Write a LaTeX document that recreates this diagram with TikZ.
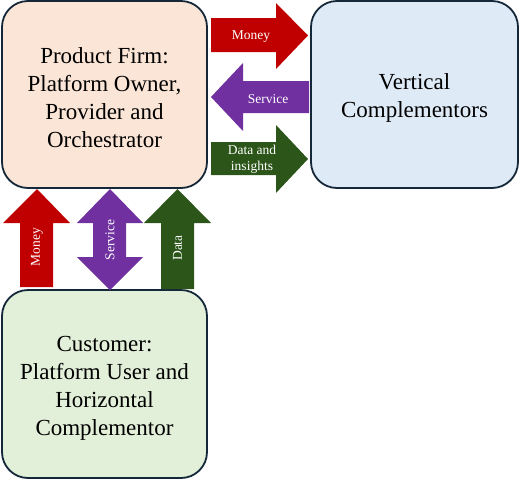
\documentclass[tikz,border=0pt]{standalone}
\usepackage{fontspec}
\setmainfont{Liberation Serif}
\begin{document}
\begin{tikzpicture}[x=1pt,y=-1pt,
  boxstyle/.style={draw=boxline,line width=1.8pt,rounded corners=26pt},
  boxtext/.style={align=center,font=\fontsize{23}{28}\selectfont,text=black},
  arrowlabel/.style={text=white,font=\fontsize{13.5}{16}\selectfont,align=center,inner sep=0pt}]
\definecolor{boxline}{HTML}{15283A}
\definecolor{firmfill}{HTML}{FBE5D6}
\definecolor{vertfill}{HTML}{DEEBF7}
\definecolor{custfill}{HTML}{E2F0D9}
\definecolor{arrred}{HTML}{C00000}
\definecolor{arrpurple}{HTML}{7030A0}
\definecolor{arrgreen}{HTML}{2C5519}
\useasboundingbox (0,0) rectangle (520,480);
% boxes
\draw[boxstyle,fill=firmfill] (2,1) rectangle (207,188);
\draw[boxstyle,fill=vertfill] (311,1) rectangle (518,188);
\draw[boxstyle,fill=custfill] (2,290) rectangle (207,478);
\node[boxtext] (firm) at (104.5,98) {Product Firm:\\Platform Owner,\\Provider and\\Orchestrator};
\node[boxtext] (vert) at (414.5,97.5) {Vertical\\Complementors};
\node[boxtext] (cust) at (104.5,388.5) {Customer:\\Platform User and\\Horizontal\\Complementor};
% horizontal arrows
\fill[arrred] (211,18) -- (276,18) -- (276,3) -- (308,35.5) -- (276,69) -- (276,52) -- (211,52) -- cycle;
\fill[arrpurple] (309,81) -- (243,81) -- (243,63) -- (211,97) -- (243,131) -- (243,113) -- (309,113) -- cycle;
\fill[arrgreen] (211,142) -- (276,142) -- (276,125) -- (308,159) -- (276,193) -- (276,175) -- (211,175) -- cycle;
\node[arrowlabel] (lmoney) at (251,37) {Money};
\node[arrowlabel] (lservice) at (268,99) {Service};
\node[arrowlabel] (ldata) at (252,159) {Data and\\insights};
% vertical arrows
\fill[arrred] (20,287) -- (20,223) -- (3,223) -- (37,189) -- (70,223) -- (53,223) -- (53,287) -- cycle;
\fill[arrpurple] (93,223) -- (77,223) -- (110,189) -- (143,223) -- (126,223) -- (126,257) -- (143,257) -- (110,290) -- (77,257) -- (93,257) -- cycle;
\fill[arrgreen] (161,289) -- (161,223) -- (144,223) -- (177.5,189) -- (211,223) -- (194,223) -- (194,289) -- cycle;
\node[arrowlabel,rotate=90] (vmoney) at (37,247) {Money};
\node[arrowlabel,rotate=90] (vservice) at (110,240) {Service};
\node[arrowlabel,rotate=90] (vdata) at (177.5,248) {Data};
\end{tikzpicture}
\end{document}
